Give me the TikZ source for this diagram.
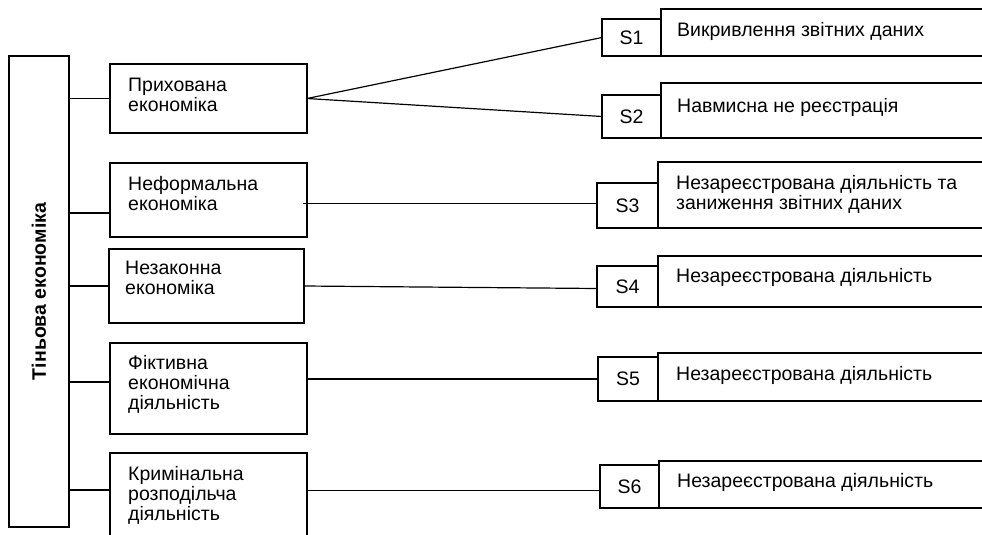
\documentclass[tikz,border=0pt]{standalone}
\usepackage{fontspec}
\setmainfont{Liberation Sans}
\usepackage{graphicx}
\usepackage{tikz}
\usetikzlibrary{positioning}
\tikzset{
  frame/.style={draw, line width=1.2pt, inner sep=0pt, outer sep=0pt}
}
\tikzset{
  sbox/.style={frame, anchor=north west, font=\fontsize{19.5}{20}\selectfont},
  boxtext/.style={anchor=base west, inner sep=0pt, align=left, font=\fontsize{19.5}{20}\selectfont},
  link/.style={line width=1.2pt}
}

\begin{document}
\begin{tikzpicture}[x=1pt, y=-1pt]
        % Page has the size of the scheme
        \useasboundingbox (0,0) rectangle (982,535);
        \def\midw{197pt}
        \def\widew{340pt}

        % Vertical box on the left
        \node[frame, minimum width=60pt, minimum height=471pt, font=\fontsize{19.5}{20}\selectfont\bfseries] (shadow) at (39,291.5) {\rotatebox{90}{Тіньова економіка}};

        % Kinds of the shadow economy (text base = last line)
        \node[frame, anchor=north west, minimum width=\midw, minimum height=69pt] (hidden) at (110,64) {};
        \node[boxtext] (hiddentxt) at ([xshift=18pt, yshift=-47pt]hidden.north west) {Прихована\\економіка};

        \node[frame, anchor=north west, minimum width=\midw, minimum height=74pt] (informal) at (110,163) {};
        \node[boxtext] (informaltxt) at ([xshift=18pt, yshift=-47pt]informal.north west) {Неформальна\\економіка};

        \node[frame, anchor=north west, minimum width=195pt, minimum height=74pt] (illegal) at (109,249) {};
        \node[boxtext] (illegaltxt) at ([xshift=16pt, yshift=-45pt]illegal.north west) {Незаконна\\економіка};

        \node[frame, anchor=north west, minimum width=\midw, minimum height=91pt] (fictive) at (110,343) {};
        \node[boxtext] (fictivetxt) at ([xshift=18pt, yshift=-66pt]fictive.north west) {Фіктивна\\економічна\\діяльність};

        \node[frame, anchor=north west, minimum width=\midw, minimum height=100pt] (criminal) at (110,453) {};
        \node[boxtext] (criminaltxt) at ([xshift=18pt, yshift=-67pt]criminal.north west) {Кримінальна\\розподільча\\діяльність};

        % S boxes
        \node[sbox, minimum width=59pt, minimum height=37pt] (s1) at (602,19) {S1};
        \node[sbox, minimum width=59pt, minimum height=43pt] (s2) at (602,95) {S2};
        \node[sbox, minimum width=61pt, minimum height=45pt] (s3) at (597,183) {S3};
        \node[sbox, minimum width=61pt, minimum height=41pt] (s4) at (597,266) {S4};
        \node[sbox, minimum width=60pt, minimum height=44pt] (s5) at (598,357) {S5};
        \node[sbox, minimum width=59pt, minimum height=43pt] (s6) at (600,465) {S6};

        % Boxes with the forms of activity (open to the right)
        \node[frame, anchor=south west, minimum width=\widew, minimum height=47pt] (r1) at (s1.south east) {};
        \node[boxtext] (r1txt) at ([xshift=16pt, yshift=-28pt]r1.north west) {Викривлення звітних даних};

        \node[frame, anchor=south west, minimum width=\widew, minimum height=55pt] (r2) at (s2.south east) {};
        \node[boxtext] (r2txt) at ([xshift=16pt, yshift=-29pt]r2.north west) {Навмисна не реєстрація};

        \node[frame, anchor=south west, minimum width=\widew, minimum height=66pt] (r3) at (s3.south east) {};
        \node[boxtext] (r3txt) at ([xshift=18pt, yshift=-47pt]r3.north west) {Незареєстрована діяльність та\\заниження звітних даних};

        \node[frame, anchor=south west, minimum width=\widew, minimum height=51pt] (r4) at (s4.south east) {};
        \node[boxtext] (r4txt) at ([xshift=18pt, yshift=-26pt]r4.north west) {Незареєстрована діяльність};

        \node[frame, anchor=south west, minimum width=\widew, minimum height=48pt] (r5) at (s5.south east) {};
        \node[boxtext] (r5txt) at ([xshift=18pt, yshift=-27pt]r5.north west) {Незареєстрована діяльність};

        \node[frame, anchor=south west, minimum width=\widew, minimum height=47pt] (r6) at (s6.south east) {};
        \node[boxtext] (r6txt) at ([xshift=18pt, yshift=-26pt]r6.north west) {Незареєстрована діяльність};

        % Lines from the left box
        \coordinate (j2) at ([yshift=-13pt]informal.west);
        \coordinate (j4) at ([yshift=6.5pt]fictive.west);
        \coordinate (j5) at ([yshift=13pt]criminal.west);
        \draw[link] (shadow.east |- hidden.west) -- (hidden.west);
        \draw[link] (shadow.east |- j2) -- (j2);
        \draw[link] (shadow.east |- illegal.west) -- (illegal.west);
        \draw[link] (shadow.east |- j4) -- (j4);
        \draw[link] (shadow.east |- j5) -- (j5);

        % Lines to the S boxes
        \coordinate (k3) at ([yshift=2pt]s3.west);
        \coordinate (k6) at ([yshift=-4pt]s6.west);
        \draw[link] (hidden.east) -- (s1.west);
        \draw[link] (hidden.east) -- (s2.west);
        \draw[link] ([xshift=-4pt]k3 -| informal.east) -- (k3);
        \draw[link] (illegal.east) -- ([yshift=-2pt]s4.west);
        \draw[link] (s5.west -| fictive.east) -- (s5.west);
        \draw[link] (k6 -| criminal.east) -- (k6);
    \end{tikzpicture}
\end{document}
